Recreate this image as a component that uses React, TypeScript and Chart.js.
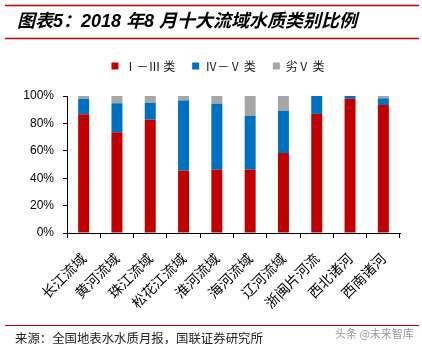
import React, { useEffect, useRef } from "react";
import { Chart, registerables } from "chart.js";

Chart.register(...registerables);

const categories = ["长江流域", "黄河流域", "珠江流域", "松花江流域", "淮河流域", "海河流域", "辽河流域", "浙闽片河流", "西北诸河", "西南诸河"];
const classI_III = [86.6, 73.5, 82.7, 45.5, 46.2, 46.2, 58.4, 86.9, 98.0, 93.4];
const classIV_V = [11.2, 21.2, 12.4, 51.3, 48.2, 39.2, 30.9, 13.1, 2.0, 4.9];
const classBelowV = [2.2, 5.3, 4.9, 3.2, 5.6, 14.6, 10.7, 0, 0, 1.7];
const seriesNames = ["Ⅰ－Ⅲ 类", "Ⅳ－Ⅴ 类", "劣Ⅴ 类"];
const yTicks = [0, 20, 40, 60, 80, 100];

const titleText = "图表5：2018 年8 月十大流域水质类别比例";
const sourceText = "来源：全国地表水水质月报，国联证券研究所";
const watermarkText = "头条 @未来智库";

const decorPlugin = {
  id: "decor",
  beforeLayout(chart: any) {
    const lg = chart.legend;
    if (lg && !lg.__patched) {
      const orig = lg.fit.bind(lg);
      lg.fit = function () {
        orig();
        this.height += 14;
      };
      lg.__patched = true;
    }
  },
  beforeDraw(chart: any) {
    const { ctx, width, height } = chart;
    ctx.save();
    ctx.fillStyle = "#fff";
    ctx.fillRect(0, 0, width, height);
    ctx.restore();
  },
  afterLayout(chart: any) {
    if (chart.legend) {
      chart.legend.left = 36;
    }
  },
  afterDraw(chart: any) {
    const { ctx } = chart;
    ctx.save();
    ctx.strokeStyle = "#C00000";
    ctx.lineWidth = 1.5;
    ctx.beginPath();
    ctx.moveTo(5, 5.5);
    ctx.lineTo(419, 5.5);
    ctx.moveTo(5, 38.5);
    ctx.lineTo(419, 38.5);
    ctx.stroke();
    ctx.lineWidth = 1;
    ctx.beginPath();
    ctx.moveTo(5, 325.5);
    ctx.lineTo(419, 325.5);
    ctx.stroke();

    ctx.fillStyle = "#000";
    ctx.font = "italic bold 18px 'Liberation Sans', 'Noto Sans CJK SC'";
    ctx.textBaseline = "middle";
    ctx.textAlign = "left";
    ctx.fillText(titleText, 17, 22);

    ctx.font = "12.4px 'Noto Sans CJK SC'";
    ctx.fillStyle = "#222";
    ctx.fillText(sourceText, 15, 338);

    ctx.font = "11px 'Noto Sans CJK SC'";
    ctx.fillStyle = "#999";
    ctx.fillText(watermarkText, 335, 334);
    ctx.restore();
  },
};

export default function App() {
  const ref = useRef<HTMLCanvasElement | null>(null);
  useEffect(() => {
    if (!ref.current) return;
    const chart = new Chart(ref.current, {
      type: "bar",
      data: {
        labels: categories,
        datasets: [
          { label: seriesNames[0], data: classI_III, backgroundColor: "#C00000" },
          { label: seriesNames[1], data: classIV_V, backgroundColor: "#0070C0" },
          { label: seriesNames[2], data: classBelowV, backgroundColor: "#A6A6A6" },
        ],
      },
      options: {
        animation: false,
        responsive: false,
        devicePixelRatio: 1,
        layout: { padding: { top: 43, left: 0, right: 22, bottom: 0 } },
        datasets: { bar: { barPercentage: 0.33, categoryPercentage: 1 } },
        plugins: {
          legend: {
            position: "top",
            labels: {
              boxWidth: 7,
              boxHeight: 7,
              padding: 17,
              color: "#222",
              font: { family: "'Noto Sans CJK SC'", size: 12 },
            },
          },
          tooltip: { enabled: false },
          title: { display: false },
        },
        scales: {
          x: {
            stacked: true,
            grid: { display: true, drawOnChartArea: false, offset: true, tickLength: 5, color: "#000" },
            border: { display: true, color: "#000", width: 1 },
            ticks: {
              minRotation: 45,
              maxRotation: 45,
              autoSkip: false,
              color: "#000",
              padding: 12,
              font: { family: "'Noto Sans CJK SC'", size: 14 },
            },
            afterFit: (scale: any) => {
              scale.height = 115;
            },
          },
          y: {
            stacked: true,
            min: 0,
            max: 100,
            grid: { display: true, drawOnChartArea: false, tickLength: 4, color: "#000" },
            border: { display: true, color: "#000", width: 1 },
            afterBuildTicks: (scale: any) => {
              scale.ticks = yTicks.map((v) => ({ value: v }));
            },
            ticks: {
              color: "#000",
              padding: 9,
              font: { family: "'Liberation Sans', Arial", size: 12 },
              callback: (v: any) => v + "%",
            },
            afterFit: (scale: any) => {
              scale.width = 67;
            },
          },
        },
      },
      plugins: [decorPlugin],
    });
    return () => chart.destroy();
  }, []);
  return (
    <div style={{ position: "fixed", left: 0, top: 0, width: 422, height: 348, background: "#fff" }}>
      <canvas ref={ref} width={422} height={348} style={{ width: 422, height: 348, display: "block" }} />
    </div>
  );
}
